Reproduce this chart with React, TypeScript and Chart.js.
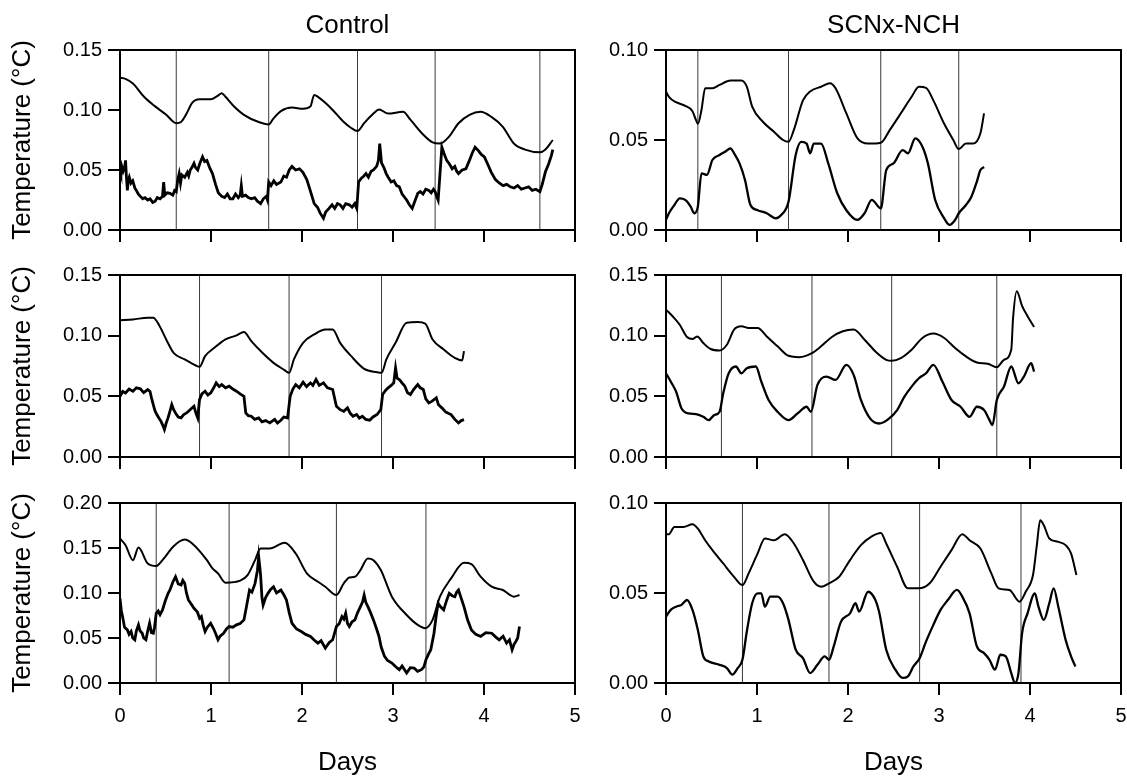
import React, { useEffect, useRef } from 'react';
import { Chart, registerables } from 'chart.js';

Chart.register(...registerables);

type Pt = [number, number];

// ---------- Control, animal 1 ----------
const ctrl1Upper: Pt[] = [
  [0, 0.127], [0.061, 0.126], [0.142, 0.122], [0.264, 0.111], [0.386, 0.103], [0.508, 0.096],
  [0.589, 0.090], [0.618, 0.089], [0.671, 0.090], [0.732, 0.097], [0.793, 0.106], [0.874, 0.109],
  [0.996, 0.109], [1.077, 0.112], [1.118, 0.114], [1.159, 0.111], [1.24, 0.104], [1.362, 0.096],
  [1.524, 0.09], [1.634, 0.088], [1.687, 0.093], [1.768, 0.099], [1.89, 0.102], [2.012, 0.101],
  [2.093, 0.103], [2.134, 0.1125], [2.175, 0.111], [2.256, 0.106], [2.337, 0.1], [2.459, 0.09],
  [2.541, 0.085], [2.61, 0.0825], [2.683, 0.089], [2.785, 0.097], [2.846, 0.1005], [2.947, 0.097],
  [3.11, 0.0985], [3.191, 0.092], [3.313, 0.081], [3.435, 0.073], [3.516, 0.072], [3.618, 0.078],
  [3.72, 0.089], [3.841, 0.096], [3.963, 0.0985], [4.085, 0.094], [4.207, 0.086], [4.329, 0.072],
  [4.451, 0.067], [4.614, 0.0647], [4.675, 0.067], [4.756, 0.075],
];
const ctrl1Lower: Pt[] = [
  [0, 0.05], [0.01, 0.047], [0.02, 0.053], [0.035, 0.049], [0.05, 0.052], [0.061, 0.058], [0.07, 0.045],
  [0.081, 0.033], [0.09, 0.041], [0.102, 0.044], [0.12, 0.039], [0.14, 0.041], [0.163, 0.035], [0.18, 0.033],
  [0.2, 0.03], [0.224, 0.028], [0.25, 0.026], [0.275, 0.027], [0.305, 0.025], [0.33, 0.026], [0.36, 0.023],
  [0.386, 0.024], [0.41, 0.027], [0.44, 0.026], [0.467, 0.028], [0.48, 0.04], [0.492, 0.029], [0.52, 0.031],
  [0.549, 0.0305], [0.58, 0.029], [0.6, 0.033], [0.618, 0.032], [0.635, 0.042], [0.65, 0.047], [0.665, 0.039],
  [0.68, 0.046], [0.711, 0.044], [0.74, 0.048], [0.755, 0.045], [0.772, 0.05], [0.79, 0.052], [0.813, 0.0555],
  [0.83, 0.052], [0.854, 0.05], [0.88, 0.056], [0.907, 0.061], [0.93, 0.057], [0.955, 0.058], [0.985, 0.052],
  [1.016, 0.047], [1.05, 0.038], [1.08, 0.031], [1.118, 0.028], [1.15, 0.027], [1.18, 0.03], [1.21, 0.026],
  [1.24, 0.026], [1.27, 0.03], [1.3, 0.027], [1.321, 0.029], [1.333, 0.037], [1.346, 0.028], [1.38, 0.029],
  [1.41, 0.027], [1.443, 0.026], [1.48, 0.027], [1.51, 0.024], [1.545, 0.022], [1.575, 0.026], [1.606, 0.028],
  [1.62, 0.025], [1.634, 0.04], [1.66, 0.037], [1.69, 0.041], [1.72, 0.038], [1.768, 0.04], [1.8, 0.045],
  [1.83, 0.044], [1.86, 0.05], [1.89, 0.053], [1.93, 0.05], [1.972, 0.051], [2.01, 0.048], [2.053, 0.042],
  [2.09, 0.033], [2.134, 0.022], [2.17, 0.019], [2.2, 0.014], [2.236, 0.0097], [2.26, 0.015], [2.297, 0.018],
  [2.33, 0.021], [2.36, 0.018], [2.39, 0.022], [2.419, 0.021], [2.45, 0.018], [2.48, 0.022], [2.52, 0.021],
  [2.55, 0.019], [2.58, 0.022], [2.602, 0.018], [2.622, 0.04], [2.65, 0.043], [2.68, 0.045], [2.703, 0.047],
  [2.73, 0.044], [2.76, 0.049], [2.785, 0.05], [2.82, 0.053], [2.84, 0.058], [2.854, 0.072], [2.874, 0.056],
  [2.9, 0.052], [2.925, 0.047], [2.947, 0.044], [2.98, 0.04], [3.01, 0.041], [3.04, 0.037], [3.069, 0.036],
  [3.1, 0.03], [3.15, 0.025], [3.18, 0.021], [3.211, 0.018], [3.24, 0.024], [3.272, 0.0305], [3.3, 0.032],
  [3.33, 0.03], [3.36, 0.034], [3.394, 0.033], [3.42, 0.031], [3.445, 0.034], [3.463, 0.032], [3.48, 0.028],
  [3.496, 0.025], [3.537, 0.069], [3.56, 0.064], [3.59, 0.058], [3.62, 0.055], [3.65, 0.051], [3.679, 0.053],
  [3.7, 0.049], [3.72, 0.047], [3.76, 0.05], [3.801, 0.051], [3.84, 0.058], [3.87, 0.064], [3.902, 0.069],
  [3.94, 0.066], [3.97, 0.063], [4.004, 0.061], [4.04, 0.055], [4.08, 0.048], [4.126, 0.042], [4.17, 0.039],
  [4.21, 0.037], [4.25, 0.038], [4.289, 0.036], [4.33, 0.035], [4.37, 0.037], [4.41, 0.034], [4.451, 0.035],
  [4.49, 0.036], [4.53, 0.033], [4.57, 0.034], [4.614, 0.032], [4.64, 0.038], [4.675, 0.0485], [4.71, 0.055],
  [4.74, 0.062], [4.756, 0.067],
];
const ctrl1Marks = [0.618, 1.634, 2.61, 3.463, 4.614];

// ---------- SCNx-NCH, animal 1 ----------
const scn1Upper: Pt[] = [
  [0, 0.077], [0.032, 0.074], [0.111, 0.071], [0.211, 0.069], [0.291, 0.066], [0.33, 0.061],
  [0.35, 0.059], [0.39, 0.0667], [0.43, 0.0787], [0.51, 0.0787], [0.589, 0.0806], [0.709, 0.083],
  [0.828, 0.083], [0.888, 0.0796], [0.947, 0.0685], [1.067, 0.06], [1.186, 0.0546], [1.286, 0.05],
  [1.346, 0.049], [1.405, 0.0556], [1.505, 0.072], [1.584, 0.077], [1.704, 0.0796], [1.803, 0.0815],
  [1.863, 0.0787], [1.982, 0.0648], [2.102, 0.051], [2.221, 0.048], [2.361, 0.0485], [2.46, 0.0556],
  [2.58, 0.0648], [2.699, 0.074], [2.779, 0.0796], [2.858, 0.079], [2.938, 0.072], [3.057, 0.059],
  [3.157, 0.05], [3.217, 0.045], [3.296, 0.048], [3.376, 0.048], [3.455, 0.0537], [3.495, 0.0648],
];
const scn1Lower: Pt[] = [
  [0, 0.0056], [0.032, 0.0093], [0.092, 0.0139], [0.151, 0.0176], [0.211, 0.0167], [0.271, 0.013],
  [0.311, 0.0093], [0.35, 0.013], [0.39, 0.0315], [0.45, 0.0306], [0.51, 0.0389], [0.589, 0.0417],
  [0.649, 0.0435], [0.709, 0.0454], [0.748, 0.0426], [0.808, 0.037], [0.868, 0.0278], [0.928, 0.0139],
  [1.007, 0.011], [1.107, 0.0093], [1.206, 0.0065], [1.266, 0.0083], [1.346, 0.0157], [1.425, 0.0417],
  [1.485, 0.049], [1.545, 0.048], [1.584, 0.0426], [1.624, 0.048], [1.704, 0.048], [1.783, 0.037],
  [1.882, 0.0204], [1.982, 0.011], [2.102, 0.0056], [2.182, 0.0093], [2.261, 0.0167], [2.361, 0.012],
  [2.42, 0.0333], [2.5, 0.037], [2.6, 0.0444], [2.659, 0.0426], [2.739, 0.0509], [2.818, 0.0463],
  [2.878, 0.037], [2.958, 0.0167], [3.057, 0.0065], [3.117, 0.0028], [3.177, 0.0056], [3.217, 0.0093],
  [3.296, 0.0139], [3.356, 0.0185], [3.416, 0.0269], [3.455, 0.0333], [3.495, 0.035],
];
const scn1Marks = [0.35, 1.346, 2.36, 3.217];

// ---------- Control, animal 2 ----------
const ctrl2Upper: Pt[] = [
  [0, 0.1128], [0.142, 0.1134], [0.305, 0.1148], [0.366, 0.1148], [0.427, 0.109], [0.508, 0.0969],
  [0.589, 0.0859], [0.711, 0.0804], [0.833, 0.0754], [0.874, 0.0743], [0.935, 0.0831], [1.037, 0.09],
  [1.159, 0.0969], [1.28, 0.1002], [1.362, 0.103], [1.443, 0.0955], [1.565, 0.0859], [1.687, 0.0776],
  [1.809, 0.0716], [1.858, 0.0694], [1.911, 0.0804], [2.012, 0.0941], [2.134, 0.101], [2.256, 0.1051],
  [2.337, 0.1051], [2.419, 0.0941], [2.541, 0.0831], [2.683, 0.0727], [2.825, 0.0699], [2.874, 0.0694],
  [2.927, 0.0804], [3.028, 0.0941], [3.15, 0.1107], [3.272, 0.1112], [3.354, 0.11], [3.435, 0.0969],
  [3.557, 0.0886], [3.679, 0.0817], [3.76, 0.0796], [3.78, 0.0873],
];
const ctrl2Lower: Pt[] = [
  [0, 0.05], [0.03, 0.054], [0.061, 0.0528], [0.1, 0.056], [0.142, 0.0542], [0.18, 0.057], [0.224, 0.0562],
  [0.26, 0.053], [0.305, 0.0556], [0.33, 0.054], [0.346, 0.0487], [0.37, 0.042], [0.386, 0.0377], [0.405, 0.035],
  [0.427, 0.0322], [0.447, 0.03], [0.467, 0.0267], [0.488, 0.0226], [0.508, 0.028], [0.528, 0.0322], [0.55, 0.038],
  [0.569, 0.0432], [0.59, 0.039], [0.61, 0.0363], [0.64, 0.033], [0.671, 0.0322], [0.7, 0.035], [0.732, 0.0363],
  [0.77, 0.039], [0.813, 0.0418], [0.835, 0.036], [0.854, 0.0322], [0.874, 0.0473], [0.9, 0.052], [0.935, 0.0542],
  [0.965, 0.051], [0.996, 0.0528], [1.03, 0.057], [1.057, 0.0611], [1.09, 0.058], [1.118, 0.0597], [1.16, 0.057],
  [1.199, 0.0584], [1.24, 0.056], [1.28, 0.0542], [1.32, 0.052], [1.362, 0.05], [1.382, 0.0363], [1.41, 0.034],
  [1.443, 0.0336], [1.48, 0.031], [1.524, 0.0322], [1.56, 0.029], [1.6, 0.03], [1.646, 0.0281], [1.7, 0.031],
  [1.73, 0.028], [1.768, 0.0303], [1.8, 0.033], [1.841, 0.0322], [1.87, 0.05], [1.9, 0.056], [1.931, 0.0597],
  [1.97, 0.057], [2.012, 0.0617], [2.05, 0.058], [2.093, 0.0611], [2.12, 0.059], [2.154, 0.0639], [2.19, 0.059],
  [2.236, 0.0611], [2.28, 0.057], [2.337, 0.0556], [2.378, 0.0418], [2.42, 0.039], [2.459, 0.0377], [2.5, 0.0405],
  [2.53, 0.036], [2.561, 0.0336], [2.6, 0.035], [2.63, 0.032], [2.663, 0.0336], [2.7, 0.031], [2.744, 0.0303],
  [2.78, 0.033], [2.825, 0.035], [2.866, 0.039], [2.886, 0.0515], [2.92, 0.055], [2.947, 0.057], [2.98, 0.059],
  [3.008, 0.0611], [3.028, 0.0735], [3.045, 0.065], [3.069, 0.0639], [3.1, 0.061], [3.13, 0.0584], [3.16, 0.053],
  [3.191, 0.0515], [3.23, 0.056], [3.272, 0.0597], [3.3, 0.057], [3.333, 0.0556], [3.36, 0.048], [3.394, 0.0446],
  [3.43, 0.046], [3.476, 0.0487], [3.5, 0.043], [3.537, 0.0405], [3.58, 0.037], [3.638, 0.035], [3.68, 0.031],
  [3.72, 0.0281], [3.75, 0.03], [3.78, 0.0308],
];
const ctrl2Marks = [0.874, 1.858, 2.874];

// ---------- SCNx-NCH, animal 2 ----------
const scn2Upper: Pt[] = [
  [0, 0.1215], [0.072, 0.116], [0.151, 0.109], [0.231, 0.0989], [0.291, 0.0972], [0.342, 0.0994],
  [0.41, 0.0939], [0.49, 0.089], [0.589, 0.0878], [0.669, 0.0925], [0.748, 0.105], [0.828, 0.1077],
  [0.908, 0.1064], [1.007, 0.1064], [1.107, 0.0994], [1.226, 0.0912], [1.346, 0.0834], [1.465, 0.0823],
  [1.604, 0.0856], [1.704, 0.0912], [1.823, 0.0989], [1.943, 0.1036], [2.062, 0.105], [2.182, 0.0967],
  [2.301, 0.087], [2.42, 0.0801], [2.48, 0.0793], [2.58, 0.0815], [2.699, 0.0884], [2.818, 0.0981],
  [2.938, 0.1017], [3.057, 0.0981], [3.177, 0.0898], [3.296, 0.0829], [3.416, 0.0779], [3.535, 0.0768],
  [3.635, 0.074], [3.714, 0.0801], [3.794, 0.0884], [3.814, 0.1146], [3.854, 0.1367], [3.914, 0.1243],
  [3.973, 0.116], [4.045, 0.1072],
];
const scn2Lower: Pt[] = [
  [0, 0.069], [0.052, 0.0622], [0.111, 0.0539], [0.171, 0.04], [0.251, 0.0359], [0.33, 0.0354],
  [0.41, 0.0331], [0.47, 0.0304], [0.529, 0.0345], [0.589, 0.0373], [0.629, 0.0525], [0.689, 0.069],
  [0.768, 0.0746], [0.828, 0.069], [0.888, 0.0732], [0.987, 0.0746], [1.047, 0.0622], [1.127, 0.047],
  [1.226, 0.0373], [1.346, 0.0304], [1.446, 0.0359], [1.545, 0.0414], [1.592, 0.0373], [1.664, 0.0594],
  [1.764, 0.0663], [1.863, 0.0635], [1.982, 0.076], [2.062, 0.0677], [2.142, 0.047], [2.242, 0.0318],
  [2.341, 0.0276], [2.44, 0.031], [2.54, 0.0387], [2.62, 0.0497], [2.699, 0.058], [2.779, 0.0649],
  [2.858, 0.069], [2.938, 0.076], [3.037, 0.0622], [3.137, 0.047], [3.237, 0.0414], [3.336, 0.0331],
  [3.416, 0.0414], [3.495, 0.0387], [3.555, 0.0304], [3.587, 0.0262], [3.635, 0.047], [3.714, 0.058],
  [3.794, 0.0746], [3.873, 0.0608], [3.933, 0.0663], [4.013, 0.0773], [4.045, 0.0704],
];
const scn2Marks = [0.609, 1.604, 2.48, 3.635];

// ---------- Control, animal 3 ----------
const ctrl3Upper: Pt[] = [
  [0, 0.1605], [0.061, 0.1531], [0.142, 0.1365], [0.203, 0.1505], [0.305, 0.1328], [0.398, 0.13],
  [0.467, 0.1365], [0.589, 0.152], [0.711, 0.1594], [0.793, 0.155], [0.955, 0.1365], [1.016, 0.1273],
  [1.077, 0.1218], [1.159, 0.1114], [1.321, 0.1137], [1.402, 0.1199], [1.484, 0.1365], [1.545, 0.1494],
  [1.646, 0.1494], [1.809, 0.1557], [1.931, 0.1439], [2.053, 0.1218], [2.175, 0.1125], [2.256, 0.107],
  [2.378, 0.0978], [2.459, 0.1107], [2.52, 0.1173], [2.581, 0.118], [2.642, 0.1255], [2.724, 0.1384],
  [2.785, 0.1365], [2.866, 0.1255], [2.988, 0.0959], [3.15, 0.0756], [3.272, 0.0646], [3.354, 0.0609],
  [3.435, 0.0701], [3.516, 0.0959], [3.638, 0.1162], [3.78, 0.1336], [3.862, 0.1321], [3.963, 0.1181],
  [4.085, 0.107], [4.207, 0.1033], [4.329, 0.0959], [4.39, 0.0978],
];
const ctrl3Lower: Pt[] = [
  [0, 0.094], [0.015, 0.08], [0.028, 0.0738], [0.05, 0.062], [0.081, 0.059], [0.1, 0.054], [0.122, 0.0572],
  [0.14, 0.05], [0.163, 0.048], [0.18, 0.058], [0.203, 0.0646], [0.22, 0.058], [0.244, 0.0553], [0.26, 0.05],
  [0.285, 0.048], [0.305, 0.058], [0.325, 0.0664], [0.345, 0.056], [0.366, 0.0553], [0.38, 0.062], [0.398, 0.0775],
  [0.42, 0.08], [0.44, 0.076], [0.467, 0.0812], [0.5, 0.092], [0.53, 0.1], [0.549, 0.1033], [0.58, 0.112],
  [0.61, 0.1181], [0.64, 0.11], [0.671, 0.1089], [0.69, 0.114], [0.711, 0.1107], [0.73, 0.1], [0.752, 0.0923],
  [0.78, 0.088], [0.813, 0.083], [0.85, 0.079], [0.875, 0.072], [0.894, 0.0738], [0.915, 0.064], [0.935, 0.0572],
  [0.96, 0.062], [0.996, 0.0664], [1.03, 0.06], [1.055, 0.054], [1.077, 0.048], [1.1, 0.052], [1.138, 0.0553],
  [1.17, 0.06], [1.199, 0.0627], [1.24, 0.062], [1.28, 0.0646], [1.32, 0.066], [1.362, 0.0701], [1.39, 0.085],
  [1.423, 0.1033], [1.45, 0.101], [1.484, 0.1107], [1.51, 0.125], [1.524, 0.1402], [1.535, 0.13], [1.545, 0.1199],
  [1.56, 0.095], [1.573, 0.0867], [1.6, 0.095], [1.626, 0.0996], [1.655, 0.104], [1.687, 0.107], [1.72, 0.1],
  [1.768, 0.1033], [1.8, 0.098], [1.829, 0.0923], [1.86, 0.078], [1.89, 0.0664], [1.94, 0.06], [1.992, 0.0572],
  [2.04, 0.054], [2.093, 0.0517], [2.13, 0.048], [2.175, 0.0443], [2.21, 0.047], [2.256, 0.0387], [2.3, 0.045],
  [2.337, 0.048], [2.378, 0.0627], [2.41, 0.066], [2.439, 0.0738], [2.46, 0.071], [2.48, 0.0775], [2.5, 0.066],
  [2.52, 0.0627], [2.55, 0.068], [2.581, 0.0701], [2.61, 0.078], [2.642, 0.0849], [2.665, 0.09], [2.683, 0.0978],
  [2.7, 0.09], [2.724, 0.0849], [2.75, 0.079], [2.785, 0.0701], [2.82, 0.06], [2.846, 0.0517], [2.87, 0.04],
  [2.907, 0.0295], [2.94, 0.025], [2.988, 0.0221], [3.03, 0.018], [3.069, 0.0148], [3.1, 0.019], [3.15, 0.0111],
  [3.19, 0.017], [3.232, 0.0166], [3.27, 0.013], [3.313, 0.0148], [3.34, 0.018], [3.362, 0.0258], [3.39, 0.032],
  [3.415, 0.0369], [3.45, 0.055], [3.475, 0.075], [3.496, 0.0886], [3.52, 0.085], [3.557, 0.0812], [3.59, 0.092],
  [3.618, 0.0996], [3.65, 0.097], [3.679, 0.0959], [3.7, 0.101], [3.72, 0.1033], [3.75, 0.094], [3.78, 0.0849],
  [3.82, 0.07], [3.862, 0.059], [3.91, 0.054], [3.963, 0.0517], [4.02, 0.056], [4.085, 0.0553], [4.13, 0.051],
  [4.167, 0.048], [4.21, 0.052], [4.248, 0.0443], [4.28, 0.048], [4.309, 0.0369], [4.33, 0.043], [4.35, 0.0461],
  [4.37, 0.05], [4.39, 0.0627],
];
const ctrl3Marks = [0.398, 1.199, 2.378, 3.362];

// ---------- SCNx-NCH, animal 3 ----------
const scn3Upper: Pt[] = [
  [0, 0.0827], [0.032, 0.0827], [0.092, 0.0867], [0.191, 0.0867], [0.291, 0.0882], [0.35, 0.0858],
  [0.43, 0.0793], [0.51, 0.0738], [0.629, 0.0664], [0.748, 0.059], [0.84, 0.0544], [0.908, 0.0609],
  [1.007, 0.072], [1.087, 0.0803], [1.186, 0.0793], [1.306, 0.0827], [1.405, 0.0775], [1.505, 0.0683],
  [1.624, 0.0563], [1.704, 0.0535], [1.791, 0.0554], [1.903, 0.059], [2.022, 0.0683], [2.142, 0.0766],
  [2.261, 0.0815], [2.361, 0.0834], [2.42, 0.0775], [2.54, 0.0646], [2.659, 0.0526], [2.779, 0.0526],
  [2.898, 0.0554], [3.017, 0.0646], [3.137, 0.0738], [3.256, 0.0827], [3.336, 0.0793], [3.455, 0.0747],
  [3.575, 0.0609], [3.654, 0.0526], [3.774, 0.0517], [3.885, 0.0452], [3.953, 0.0507], [4.033, 0.06],
  [4.073, 0.0756], [4.112, 0.0904], [4.152, 0.0876], [4.212, 0.0803], [4.311, 0.0784], [4.391, 0.0766],
  [4.451, 0.072], [4.51, 0.06],
];
const scn3Lower: Pt[] = [
  [0, 0.0369], [0.052, 0.0406], [0.111, 0.0424], [0.171, 0.0434], [0.231, 0.0461], [0.291, 0.0406],
  [0.35, 0.0295], [0.41, 0.0148], [0.47, 0.012], [0.589, 0.0101], [0.669, 0.0083], [0.729, 0.0046],
  [0.788, 0.0083], [0.84, 0.0129], [0.888, 0.0286], [0.947, 0.0443], [1.007, 0.0498], [1.047, 0.0498],
  [1.087, 0.0424], [1.146, 0.048], [1.226, 0.048], [1.286, 0.0443], [1.346, 0.0351], [1.425, 0.0185],
  [1.505, 0.0138], [1.584, 0.0055], [1.664, 0.0101], [1.744, 0.0148], [1.791, 0.0129], [1.843, 0.0203],
  [1.923, 0.0341], [2.022, 0.0387], [2.082, 0.0443], [2.122, 0.0397], [2.221, 0.0507], [2.301, 0.0461],
  [2.341, 0.0397], [2.42, 0.0185], [2.52, 0.0074], [2.6, 0.0028], [2.659, 0.0037], [2.719, 0.0092],
  [2.787, 0.0138], [2.858, 0.0231], [2.938, 0.0323], [3.017, 0.0406], [3.097, 0.0461], [3.197, 0.0517],
  [3.256, 0.048], [3.336, 0.0387], [3.416, 0.0203], [3.495, 0.0166], [3.555, 0.0129], [3.615, 0.0074],
  [3.674, 0.0157], [3.734, 0.0148], [3.794, 0.0055], [3.834, 0.0], [3.873, 0.0055], [3.913, 0.0277],
  [3.973, 0.0387], [4.053, 0.0498], [4.093, 0.0424], [4.152, 0.0351], [4.212, 0.0443], [4.26, 0.0526],
  [4.311, 0.0424], [4.391, 0.024], [4.451, 0.0148], [4.499, 0.0092],
];
const scn3Marks = [0.84, 1.791, 2.787, 3.901];

// ---------- axis settings ----------
const xTicks = { min: 0, max: 5, step: 1 };
const yRanges = {
  ctrl1: [0, 0.15], scn1: [0, 0.1],
  ctrl2: [0, 0.15], scn2: [0, 0.15],
  ctrl3: [0, 0.2], scn3: [0, 0.1],
};
const yStep = 0.05;
const columnTitles = ['Control', 'SCNx-NCH'];
const yAxisTitle = 'Temperature (°C)';
const xAxisTitle = 'Days';

const FONT = "'Liberation Sans', Arial, Helvetica, sans-serif";

interface PanelSpec {
  upper: Pt[];
  lower: Pt[];
  marks: number[];
  yRange: number[];
  left: number;
  top: number;
  width: number;
  height: number;
  padTop: number;
  padRight: number;
  yAxisWidth: number;
  xAxisHeight: number;
  showXLabels: boolean;
  showYTitle: boolean;
  showXTitle: boolean;
  noisy: boolean;
}

const LEFT_COL = { left: 0, width: 595, yAxisWidth: 120, padRight: 20 };
const RIGHT_COL = { left: 595, width: 532, yAxisWidth: 71, padRight: 6 };
const ROWS = [
  { top: 0, height: 260, padTop: 50, xAxisHeight: 30, showXLabels: false, showXTitle: false },
  { top: 260, height: 230, padTop: 15, xAxisHeight: 33, showXLabels: false, showXTitle: false },
  { top: 490, height: 288, padTop: 13, xAxisHeight: 95, showXLabels: true, showXTitle: true },
];

const panels: PanelSpec[] = [
  { upper: ctrl1Upper, lower: ctrl1Lower, marks: ctrl1Marks, yRange: yRanges.ctrl1, ...LEFT_COL, ...ROWS[0], showYTitle: true, noisy: true },
  { upper: scn1Upper, lower: scn1Lower, marks: scn1Marks, yRange: yRanges.scn1, ...RIGHT_COL, ...ROWS[0], showYTitle: false, noisy: false },
  { upper: ctrl2Upper, lower: ctrl2Lower, marks: ctrl2Marks, yRange: yRanges.ctrl2, ...LEFT_COL, ...ROWS[1], showYTitle: true, noisy: true },
  { upper: scn2Upper, lower: scn2Lower, marks: scn2Marks, yRange: yRanges.scn2, ...RIGHT_COL, ...ROWS[1], showYTitle: false, noisy: false },
  { upper: ctrl3Upper, lower: ctrl3Lower, marks: ctrl3Marks, yRange: yRanges.ctrl3, ...LEFT_COL, ...ROWS[2], showYTitle: true, noisy: true },
  { upper: scn3Upper, lower: scn3Lower, marks: scn3Marks, yRange: yRanges.scn3, ...RIGHT_COL, ...ROWS[2], showYTitle: false, noisy: false },
];

const framePlugin = {
  id: 'frameBox',
  afterDatasetsDraw(chart: any) {
    const { ctx, chartArea: a } = chart;
    ctx.save();
    ctx.strokeStyle = '#000';
    ctx.lineWidth = 2;
    ctx.strokeRect(a.left, a.top, a.right - a.left, a.bottom - a.top);
    ctx.restore();
  },
};

function Panel({ spec }: { spec: PanelSpec }) {
  const ref = useRef<HTMLCanvasElement | null>(null);
  useEffect(() => {
    if (!ref.current) return;
    const [yMin, yMax] = spec.yRange;
    const toXY = (arr: Pt[]) => arr.map(([x, y]) => ({ x, y }));
    const markSets = spec.marks.map((m) => ({
      data: [{ x: m, y: yMin }, { x: m, y: yMax }],
      borderColor: '#3a3a3a',
      borderWidth: 1,
      pointRadius: 0,
      showLine: true,
      order: 2,
    }));
    const gridStyle = {
      drawOnChartArea: false,
      drawTicks: true,
      tickLength: 12,
      lineWidth: 2,
      color: '#000',
      tickColor: '#000',
    };
    const chart = new Chart(ref.current, {
      type: 'scatter',
      data: {
        datasets: [
          {
            data: toXY(spec.upper),
            borderColor: '#000',
            borderWidth: 2,
            pointRadius: 0,
            showLine: true,
            cubicInterpolationMode: 'monotone',
            order: 0,
          },
          {
            data: toXY(spec.lower),
            borderColor: '#000',
            borderWidth: spec.noisy ? 2.8 : 2.3,
            pointRadius: 0,
            showLine: true,
            cubicInterpolationMode: spec.noisy ? 'default' : 'monotone',
            tension: 0,
            order: 1,
          },
          ...markSets,
        ] as any,
      },
      options: {
        animation: false,
        responsive: false,
        events: [],
        layout: { padding: { top: spec.padTop, right: spec.padRight, left: 0, bottom: 0 } },
        plugins: { legend: { display: false }, tooltip: { enabled: false }, title: { display: false } },
        scales: {
          x: {
            type: 'linear',
            min: xTicks.min,
            max: xTicks.max,
            afterFit: (s: any) => {
              s.height = spec.xAxisHeight;
              s.paddingLeft = 0;
              s.paddingRight = 0;
            },
            ticks: {
              stepSize: xTicks.step,
              display: spec.showXLabels,
              color: '#000',
              padding: 9,
              font: { family: FONT, size: 20 },
            },
            grid: gridStyle,
            border: { display: true, width: 2, color: '#000' },
            title: {
              display: spec.showXTitle,
              text: xAxisTitle,
              color: '#000',
              font: { family: FONT, size: 26 },
              padding: { top: 0, bottom: 0 },
            },
          },
          y: {
            type: 'linear',
            min: yMin,
            max: yMax,
            afterFit: (s: any) => {
              s.width = spec.yAxisWidth;
              s.paddingTop = 0;
              s.paddingBottom = 0;
            },
            ticks: {
              stepSize: yStep,
              color: '#000',
              padding: 6,
              font: { family: FONT, size: 20 },
              callback: (v: any) => Number(v).toFixed(2),
            },
            grid: gridStyle,
            border: { display: true, width: 2, color: '#000' },
            title: {
              display: spec.showYTitle,
              text: yAxisTitle,
              color: '#000',
              font: { family: FONT, size: 26 },
              padding: { top: 7, bottom: 0 },
            },
          },
        },
      } as any,
      plugins: [framePlugin],
    });
    return () => chart.destroy();
  }, [spec]);
  return (
    <canvas
      ref={ref}
      width={spec.width}
      height={spec.height}
      style={{ position: 'absolute', left: spec.left, top: spec.top, width: spec.width, height: spec.height }}
    />
  );
}

export default function App() {
  const titleStyle = (left: number, width: number): React.CSSProperties => ({
    position: 'absolute',
    left,
    width,
    top: 9,
    textAlign: 'center',
    fontFamily: FONT,
    fontSize: 26,
    lineHeight: '30px',
    color: '#000',
  });
  return (
    <div style={{ position: 'absolute', left: 0, top: 0, width: 1127, height: 778, background: '#fff', overflow: 'hidden' }}>
      {panels.map((p, i) => (
        <Panel key={i} spec={p} />
      ))}
      <div style={titleStyle(120, 455)}>{columnTitles[0]}</div>
      <div style={titleStyle(666, 455)}>{columnTitles[1]}</div>
    </div>
  );
}
